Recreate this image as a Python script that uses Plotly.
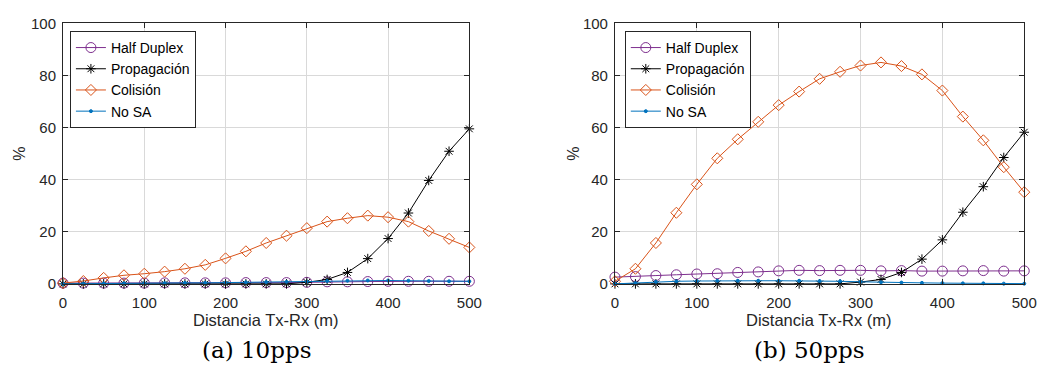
import plotly.graph_objects as go

distance = [0, 25, 50, 75, 100, 125, 150, 175, 200, 225, 250, 275, 300, 325, 350, 375, 400, 425, 450, 475, 500]

# (a) 10pps
hd_10 = [0.3, 0.3, 0.3, 0.3, 0.3, 0.4, 0.4, 0.4, 0.4, 0.5, 0.5, 0.5, 0.6, 0.8, 0.8, 0.9, 1.0, 1.0, 1.0, 1.0, 1.0]
prop_10 = [0, 0, 0, 0, 0, 0, 0, 0, 0, 0, 0, 0, 0.6, 1.7, 4.4, 9.7, 17.4, 27.2, 39.7, 50.9, 59.5]
col_10 = [0.3, 1.1, 2.3, 3.3, 3.9, 4.7, 5.8, 7.3, 9.8, 12.5, 15.7, 18.5, 21.4, 23.9, 25.2, 26.2, 25.6, 23.9, 20.3, 17.3, 14.0]
nosa_10 = [0.0, 0.1, 0.2, 0.2, 0.3, 0.3, 0.4, 0.4, 0.5, 0.6, 0.7, 0.8, 0.9, 1.1, 1.2, 1.3, 1.3, 1.2, 1.1, 1.0, 1.0]

# (b) 50pps
hd_50 = [2.6, 2.8, 3.2, 3.5, 3.8, 3.9, 4.4, 4.6, 5.0, 5.2, 5.1, 5.2, 5.2, 5.0, 5.1, 4.9, 4.9, 5.0, 5.1, 4.9, 5.0]
prop_50 = [0, 0, 0, 0, 0, 0, 0, 0, 0, 0, 0, 0, 0.7, 1.7, 4.4, 9.5, 16.9, 27.5, 37.3, 48.5, 58.2]
col_50 = [1.0, 5.8, 15.7, 27.3, 38.2, 48.2, 55.5, 62.2, 68.6, 73.8, 78.7, 81.4, 83.8, 85.0, 83.6, 80.4, 74.2, 64.2, 55.1, 44.8, 35.2]
nosa_50 = [0.0, 0.3, 0.8, 1.0, 1.1, 1.2, 1.2, 1.2, 1.2, 1.2, 1.1, 1.0, 0.8, 0.6, 0.5, 0.4, 0.3, 0.2, 0.2, 0.1, 0.1]

names = ["Half Duplex", "Propagación", "Colisión", "No SA"]
colors = ["#7E2F8E", "#000000", "#D95319", "#0072BD"]
symbols = ["circle-open", "asterisk-open", "diamond-open", "circle"]
msizes = [10, 8, 8.5, 3]

FONT = "Liberation Sans, Arial, sans-serif"
AX = "#262626"

fig = go.Figure()

panels = [
    ("x", "y", "legend", [hd_10, prop_10, col_10, nosa_10]),
    ("x2", "y2", "legend2", [hd_50, prop_50, col_50, nosa_50]),
]
for xa, ya, leg, series in panels:
    for name, vals, c, s, ms in zip(names, series, colors, symbols, msizes):
        fig.add_trace(go.Scatter(
            x=distance, y=vals, name=name, mode="lines+markers",
            line=dict(color=c, width=1),
            marker=dict(symbol=s, size=ms, color=c, line=dict(color=c, width=1)),
            xaxis=xa, yaxis=ya, legend=leg, cliponaxis=False,
        ))

ybot = 0.230
ytop = 1 - 15 / 374
axcommon = dict(
    showline=True, linecolor=AX, linewidth=1, mirror="ticks",
    ticks="inside", ticklen=5, tickcolor=AX,
    showgrid=True, gridcolor="#d9d9d9", gridwidth=1, zeroline=False,
    tickfont=dict(family=FONT, size=15, color=AX),
)
legcommon = dict(xanchor="left", yanchor="top",
                 bgcolor="white", bordercolor="#262626", borderwidth=1,
                 font=dict(family=FONT, size=14, color="#000000"), tracegroupgap=0)
fig.update_layout(
    width=1052, height=374,
    margin=dict(l=0, r=0, t=0, b=0),
    paper_bgcolor="white", plot_bgcolor="white",
    font=dict(family=FONT, size=15, color="#000000"),
    xaxis=dict(domain=[60 / 1052, 473 / 1052], range=[0, 500], dtick=100, anchor="y",
               ticklabelstandoff=5, **axcommon),
    yaxis=dict(domain=[ybot, ytop], range=[0, 100], dtick=20, anchor="x",
               ticklabelstandoff=3, **axcommon),
    xaxis2=dict(domain=[621 / 1052, 1037 / 1052], range=[0, 500], dtick=100, anchor="y2",
                ticklabelstandoff=5, **axcommon),
    yaxis2=dict(domain=[ybot, ytop], range=[0, 100], dtick=20, anchor="x2",
                ticklabelstandoff=3, **axcommon),
    legend=dict(x=67 / 1052, y=1 - 23 / 374, **legcommon),
    legend2=dict(x=631 / 1052, y=1 - 23 / 374, **legcommon),
)

def ann(text, x, y, size=15, family=FONT, angle=0, color=AX):
    fig.add_annotation(text=text, x=x / 1052, y=1 - y / 374, xref="paper", yref="paper",
                       showarrow=False, xanchor="center", yanchor="middle",
                       textangle=angle, font=dict(family=family, size=size, color=color))

ann("%", 15, 152, size=16, angle=-90)
ann("%", 578, 152, size=16, angle=-90)
ann("Distancia Tx-Rx (m)", 266, 326, size=16.5)
ann("Distancia Tx-Rx (m)", 828, 326, size=16.5)
ann("(a) 10pps", 257, 357, size=23, family="DejaVu Serif", color="#000000")
ann("(b) 50pps", 819, 357, size=23, family="DejaVu Serif", color="#000000")

fig.write_html("out.html")
